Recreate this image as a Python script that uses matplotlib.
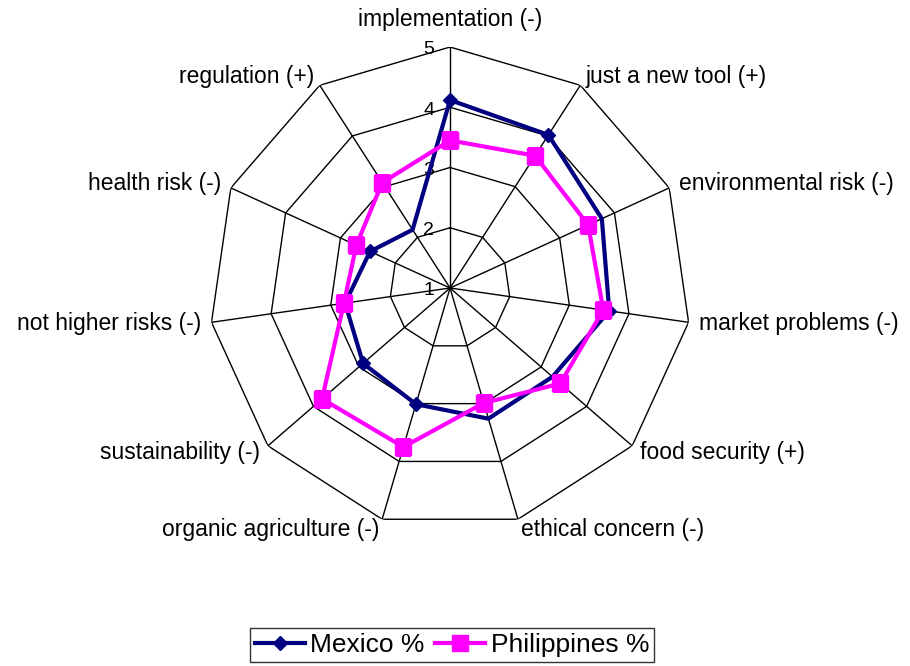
import matplotlib
matplotlib.use("Agg")
import matplotlib.pyplot as plt
import numpy as np

plt.rcParams['font.family'] = ['Liberation Sans', 'DejaVu Sans']

# данные
categories = ["implementation (-)", "just a new tool (+)", "environmental risk (-)",
              "market problems (-)", "food security (+)", "ethical concern (-)",
              "organic agriculture (-)", "sustainability (-)", "not higher risks (-)",
              "health risk (-)", "regulation (+)"]
mexico = [4.12, 4.02, 3.77, 3.67, 3.25, 3.26, 3.01, 2.91, 2.76, 2.46, 2.15]
philippines = [3.45, 3.61, 3.52, 3.57, 3.42, 2.99, 3.75, 3.81, 2.78, 2.71, 3.08]
rings = [1, 2, 3, 4, 5]
mexico_marks = [0, 1, 3, 6, 7, 8, 9]

n = len(categories)
theta = np.arange(n) * 2 * np.pi / n
theta_c = np.append(theta, theta[0])

fig = plt.figure(figsize=(9.1, 6.66), dpi=100)
ax = fig.add_axes([0.2297, 0.2057, 0.5297, 0.7237], projection='polar')
ax.set_theta_zero_location('N')
ax.set_theta_direction(-1)
ax.set_ylim(rings[0], rings[-1])
ax.grid(False)
ax.spines['polar'].set_visible(False)
ax.set_xticks([])
ax.set_yticks([])

# сетка: многоугольники и лучи
for v in rings[1:]:
    ax.plot(theta_c, [v] * (n + 1), color='black', lw=1.0, zorder=1)
for t in theta:
    ax.plot([t, t], [rings[0], rings[-1]], color='black', lw=1.0, zorder=1)

for v in rings:
    ax.annotate(str(v), xy=(0, v), xytext=(-11.5, -2), textcoords='offset points',
                ha='right', va='center', fontsize=14)

ax.plot(theta_c, mexico + mexico[:1], color='#000080', lw=3, marker='D',
        markersize=7, markevery=mexico_marks, zorder=3, label='Mexico %')
ax.plot(theta_c, philippines + philippines[:1], color='#FF00FF', lw=3, marker='s',
        markersize=11, zorder=4, label='Philippines %')

for t, name in zip(theta, categories):
    s = np.sin(t)
    if abs(s) < 1e-6:
        ax.text(t, 5.27, name, ha='center', va='bottom', fontsize=16.5)
    else:
        ax.text(t, 5.17, name, ha='left' if s > 0 else 'right', va='center',
                fontsize=16.5)

leg = fig.legend(loc='center', bbox_to_anchor=(452 / 910, 1 - 645 / 666), ncol=2,
                 fontsize=19, frameon=True, fancybox=False, edgecolor='black',
                 handlelength=1.9, handletextpad=0.2, columnspacing=0.4,
                 borderpad=0.2)
leg.get_frame().set_linewidth(1.0)

fig.savefig('out.png', dpi=100)
